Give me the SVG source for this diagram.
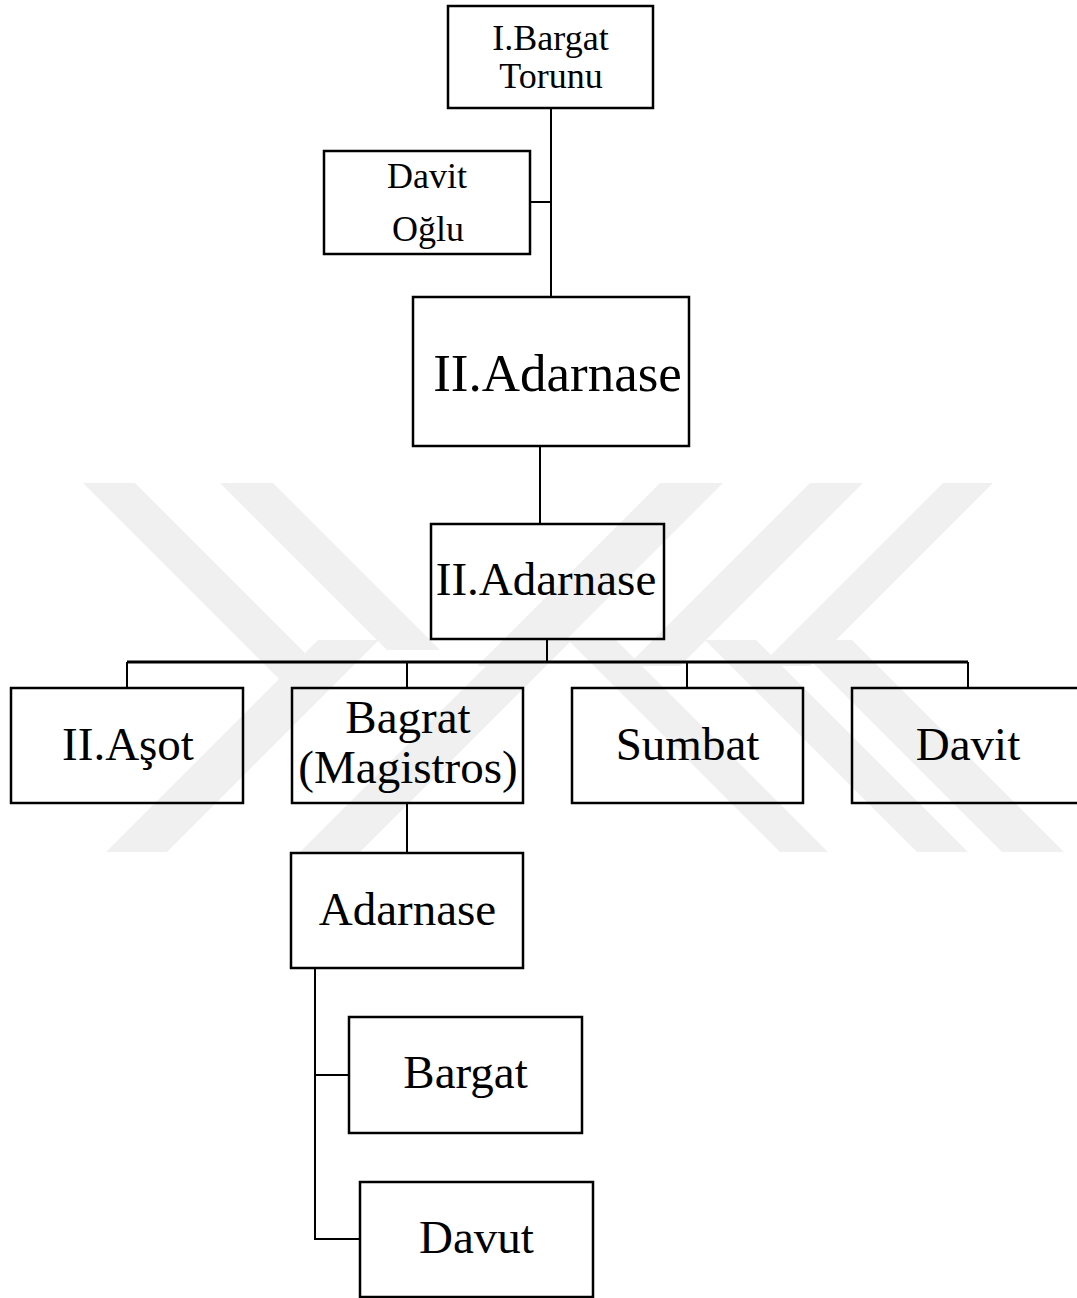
<svg xmlns="http://www.w3.org/2000/svg" width="1077" height="1298" viewBox="0 0 1077 1298">
<style>
.box{fill:none;stroke:#000;stroke-width:2.5}
.t{font-family:"Liberation Serif","Times New Roman",serif;fill:#000;text-anchor:middle}
.s{font-size:36px}
.m{font-size:47px}
.l{font-size:53px}
.wm{fill:#f0f0f0}
.c{fill:none;stroke:#000;stroke-width:2}
.bus{fill:none;stroke:#000;stroke-width:3}
</style>
<rect width="1077" height="1298" fill="#fff"/>
<g id="watermark">
<polygon class="wm" points="83,483 135,483 332,680 280,680"/>
<polygon class="wm" points="220,483 273,483 440,650 387,650"/>
<polygon class="wm" points="943,483 993,483 810,666 760,666"/>
<polygon class="wm" points="810,483 863,483 680,666 627,666"/>
<polygon class="wm" points="660,483 723,483 540,666 477,666"/>
<polygon class="wm" points="318,640 379,640 167,852 106,852"/>
<polygon class="wm" points="512,640 572,640 360,852 300,852"/>
<polygon class="wm" points="790,640 852,640 1064,852 1002,852"/>
<polygon class="wm" points="705,640 756,640 968,852 917,852"/>
<polygon class="wm" points="568,640 616,640 828,852 780,852"/>
</g>
<g id="connectors">
<path class="c" d="M551,108 V297"/>
<path class="c" d="M530,202 H551"/>
<path class="c" d="M540,446 V524"/>
<path class="c" d="M547,639 V662"/>
<path class="bus" d="M127,662 H968"/>
<path class="c" d="M127,662 V688 M407,662 V688 M687,662 V688 M968,662 V688"/>
<path class="c" d="M407,803 V853"/>
<path class="c" d="M315,968 V1239 H360 M315,1075 H349"/>
</g>
<g id="n-bargat-torunu">
<rect class="box" x="448" y="6" width="205" height="102"/>
<text class="t s" x="550.5" y="50">I.Bargat</text>
<text class="t s" x="551" y="88">Torunu</text>
</g>
<g id="n-davit-oglu">
<rect class="box" x="324" y="151" width="206" height="103"/>
<text class="t s" x="427" y="188">Davit</text>
<text class="t s" x="428" y="241">Oğlu</text>
</g>
<g id="n-adarnase-1">
<rect class="box" x="413" y="297" width="276" height="149"/>
<text class="t l" x="557.5" y="391">II.Adarnase</text>
</g>
<g id="n-adarnase-2">
<rect class="box" x="431" y="524" width="233" height="115"/>
<text class="t m" x="546" y="595">II.Adarnase</text>
</g>
<g id="n-asot">
<rect class="box" x="11" y="688" width="232" height="115"/>
<text class="t m" x="128" y="760">II.Aşot</text>
</g>
<g id="n-bagrat">
<rect class="box" x="292" y="688" width="231" height="115"/>
<text class="t m" x="408" y="733">Bagrat</text>
<text class="t m" x="408" y="783">(Magistros)</text>
</g>
<g id="n-sumbat">
<rect class="box" x="572" y="688" width="231" height="115"/>
<text class="t m" x="687.5" y="760">Sumbat</text>
</g>
<g id="n-davit">
<rect class="box" x="852" y="688" width="231" height="115"/>
<text class="t m" x="968" y="760">Davit</text>
</g>
<g id="n-adarnase-3">
<rect class="box" x="291" y="853" width="232" height="115"/>
<text class="t m" x="407.5" y="925">Adarnase</text>
</g>
<g id="n-bargat">
<rect class="box" x="349" y="1017" width="233" height="116"/>
<text class="t m" x="465.5" y="1088">Bargat</text>
</g>
<g id="n-davut">
<rect class="box" x="360" y="1182" width="233" height="115"/>
<text class="t m" x="476.5" y="1253">Davut</text>
</g>
</svg>
